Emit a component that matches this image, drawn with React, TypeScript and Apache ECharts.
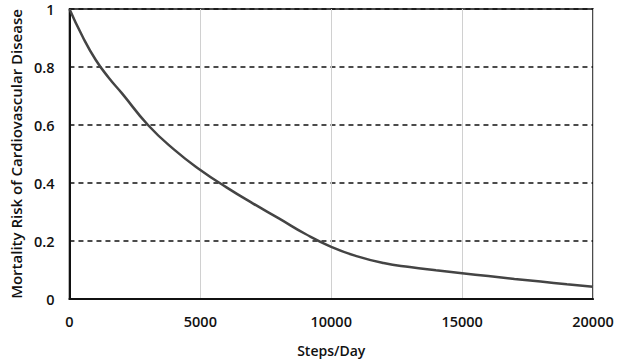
import React, { useEffect, useRef } from "react";
import * as echarts from "echarts";

const steps = [0, 500, 1000, 1500, 2000, 3000, 4000, 5000, 6000, 7000, 8000, 9000, 10000, 11000, 12000, 13000, 14000, 15000, 16000, 17000, 18000, 19000, 20000];
const risk = [1.0, 0.905, 0.825, 0.763, 0.71, 0.6, 0.515, 0.445, 0.385, 0.33, 0.278, 0.225, 0.18, 0.147, 0.124, 0.11, 0.099, 0.089, 0.079, 0.069, 0.06, 0.051, 0.042];

const FONT = "Open Sans";

export default function App() {
  const ref = useRef<HTMLDivElement>(null);
  useEffect(() => {
    document.body.style.margin = "0";
    const chart = echarts.init(ref.current!, null, { renderer: "svg" });
    const txt = { color: "#111", fontFamily: FONT, fontSize: 14.5, fontWeight: 600 };
    chart.setOption({
      animation: false,
      grid: {
        left: 67,
        right: 31,
        top: 9,
        bottom: 64,
        show: true,
        borderColor: "#111",
        borderWidth: 1.5,
      },
      xAxis: {
        type: "value",
        min: 0,
        max: 20000,
        interval: 5000,
        name: "Steps/Day",
        nameLocation: "middle",
        nameGap: 44,
        nameTextStyle: { ...txt, fontSize: 14 },
        axisLine: { show: true, lineStyle: { color: "#111", width: 2 } },
        axisTick: { show: false },
        axisLabel: { ...txt, margin: 15, formatter: (v: number) => String(v) },
        splitLine: { show: true, lineStyle: { color: "#d0d0d0", width: 1 } },
      },
      yAxis: {
        type: "value",
        min: 0,
        max: 1,
        interval: 0.2,
        name: "Mortality Risk of Cardiovascular Disease",
        nameLocation: "middle",
        nameGap: 42,
        nameTextStyle: { ...txt, fontSize: 15 },
        axisLine: { show: true, lineStyle: { color: "#111", width: 2 } },
        axisTick: { show: false },
        axisLabel: { ...txt, margin: 15, formatter: (v: number) => String(v) },
        splitLine: { show: true, lineStyle: { color: "#111", width: 1.5, type: [5, 4] } },
      },
      series: [
        {
          type: "line",
          data: steps.map((s, i) => [s, risk[i]]),
          smooth: 0.5,
          showSymbol: false,
          lineStyle: { color: "#444", width: 2.5 },
        },
      ],
    });
    return () => chart.dispose();
  }, []);
  return <div ref={ref} style={{ width: 624, height: 363 }} />;
}
